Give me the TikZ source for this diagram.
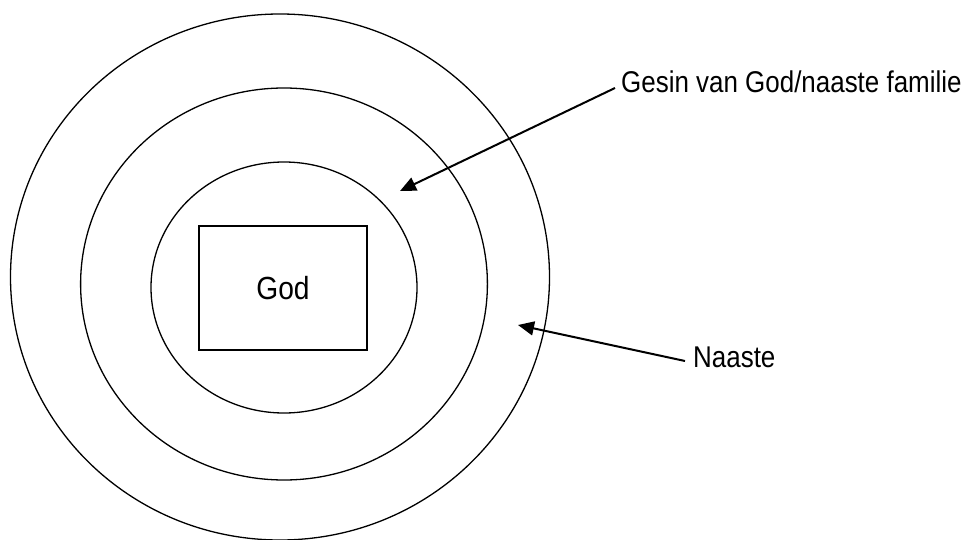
\documentclass[tikz,border=0pt]{standalone}
\usepackage{fontspec}
\setmainfont{Liberation Sans}
\newfontfamily\labfont[FakeStretch=0.865]{Liberation Sans}
\newfontfamily\godfont[FakeStretch=0.88]{Liberation Sans}
\usepackage{tikz}
\usetikzlibrary{arrows.meta, positioning}

\begin{document}
\begin{tikzpicture}[x=1pt, y=-1pt,
    ring/.style={black, line width=1.3pt},
    godbox/.style={draw, line width=1.3pt, minimum width=168pt, minimum height=124pt, inner sep=0pt, font=\godfont\fontsize{32}{38}\selectfont},
    lab/.style={font=\labfont\fontsize{30}{36}\selectfont, anchor=west, inner ysep=0pt},
    pointer/.style={-{Triangle[length=16pt, width=14pt]}, line width=2pt}]
  \useasboundingbox (0,0) rectangle (968,540);
  \foreach \cx/\cy/\rx/\ry in {280/277/269.5/263, 284/284/203.4/196, 284/287.5/133/125.5}{
    \draw[ring] (\cx,\cy) ellipse [x radius=\rx pt, y radius=\ry pt];
  }
  \node[godbox] (god) at (283,288) {God};
  \coordinate (tipG) at (400,191);
  \coordinate (tipN) at (518,325);
  \node[lab, inner xsep=6pt] (lblG) at (615,82) {Gesin van God/naaste familie};
  \node[lab, inner xsep=8pt] (lblN) at (685,357) {Naaste};
  \draw[pointer] ([yshift=-6pt]lblG.west) -- (tipG);
  \draw[pointer] ([yshift=-4pt]lblN.west) -- (tipN);
\end{tikzpicture}
\end{document}
